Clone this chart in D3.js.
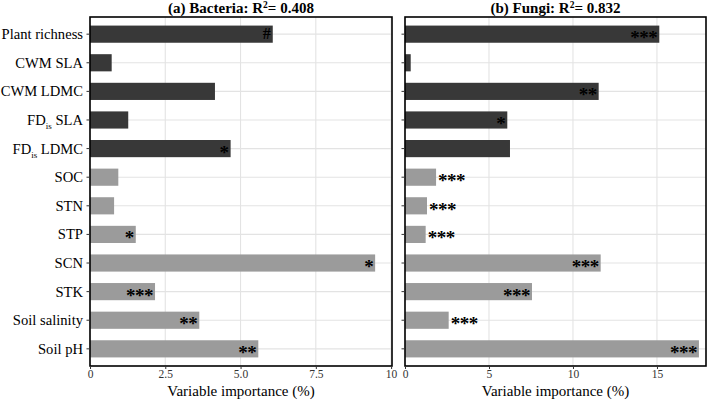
<!DOCTYPE html>
<html>
<head>
<meta charset="utf-8">
<script src="https://cdn.jsdelivr.net/npm/d3@7"></script>
<style>
  html, body { margin: 0; padding: 0; background: #fff; }
  svg { display: block; }
  text { font-family: "Liberation Serif", "Times New Roman", serif; }
</style>
</head>
<body>
<svg id="chart" width="709" height="402"></svg>
<script>
// ---- data ----
const categories = ["Plant richness", "CWM SLA", "CWM LDMC", "FDis SLA", "FDis LDMC",
  "SOC", "STN", "STP", "SCN", "STK", "Soil salinity", "Soil pH"];
const groups = ["plant", "plant", "plant", "plant", "plant",
  "soil", "soil", "soil", "soil", "soil", "soil", "soil"];
const bacteriaValues = [6.07, 0.72, 4.15, 1.27, 4.67, 0.94, 0.80, 1.52, 9.47, 2.16, 3.63, 5.59];
const bacteriaSig = ["#", "", "", "", "*", "", "", "*", "*", "***", "**", "**"];
const fungiValues = [15.14, 0.34, 11.53, 6.09, 6.25, 1.85, 1.31, 1.23, 11.65, 7.56, 2.60, 17.5];
const fungiSig = ["***", "", "**", "*", "", "***", "***", "***", "***", "***", "***", "***"];
const bacteriaTicks = [0, 2.5, 5.0, 7.5, 10];
const fungiTicks = [0, 5, 10, 15];
const panelTitles = [
  { pre: "(a) Bacteria: R", r2: "0.408" },
  { pre: "(b) Fungi: R", r2: "0.832" }
];

const colors = { plant: "#383838", soil: "#9b9b9b" };

const svg = d3.select("#chart");
const plotTop = 17, plotBottom = 366;

const y = d3.scaleBand().domain(categories).range([plotTop, plotBottom])
  .paddingInner(0.4).paddingOuter(0.3);

const panels = [
  { x0: 90, x1: 392, domain: [0, 10.03], values: bacteriaValues, sig: bacteriaSig,
    ticks: bacteriaTicks, fmt: d => (d === 0 ? "0" : d === 10 ? "10" : d3.format(".1f")(d)), title: panelTitles[0], labels: true },
  { x0: 405, x1: 706, domain: [0, 17.92], values: fungiValues, sig: fungiSig,
    ticks: fungiTicks, fmt: d => String(d), title: panelTitles[1], labels: false }
];

panels.forEach(p => {
  const x = d3.scaleLinear().domain(p.domain).range([p.x0, p.x1]);
  const g = svg.append("g");

  // gridlines
  g.append("g").selectAll("line").data(p.ticks).join("line")
    .attr("x1", d => x(d)).attr("x2", d => x(d))
    .attr("y1", plotTop).attr("y2", plotBottom)
    .attr("stroke", "#e3e3e3").attr("stroke-width", 1.1);
  g.append("g").selectAll("line").data(categories).join("line")
    .attr("x1", p.x0).attr("x2", p.x1)
    .attr("y1", d => y(d) + y.bandwidth() / 2).attr("y2", d => y(d) + y.bandwidth() / 2)
    .attr("stroke", "#e3e3e3").attr("stroke-width", 1.1);

  // bars
  g.append("g").selectAll("rect").data(categories).join("rect")
    .attr("x", x(0))
    .attr("y", d => y(d))
    .attr("width", (d, i) => x(p.values[i]) - x(0))
    .attr("height", y.bandwidth())
    .attr("fill", (d, i) => colors[groups[i]]);

  // significance labels
  const sigG = g.append("g");
  categories.forEach((c, i) => {
    const s = p.sig[i];
    if (!s) return;
    const barPx = x(p.values[i]) - x(0);
    const isHash = s === "#";
    const labelW = s.length * 9.5;
    const outside = barPx < labelW + 20;
    const cy = y(c) + y.bandwidth() / 2;
    sigG.append("text")
      .attr("x", outside ? x(p.values[i]) + 2 : x(p.values[i]) - 2)
      .attr("y", cy + (isHash ? 5 : 10))
      .attr("text-anchor", outside ? "start" : "end")
      .attr("font-weight", "bold")
      .attr("font-size", isHash ? 16 : 19)
      .attr("letter-spacing", isHash ? 0 : -0.5)
      .attr("fill", "#000")
      .text(s);
  });

  // panel border
  g.append("rect")
    .attr("x", p.x0).attr("y", plotTop)
    .attr("width", p.x1 - p.x0).attr("height", plotBottom - plotTop)
    .attr("fill", "none").attr("stroke", "#000").attr("stroke-width", 1.6);

  // x axis
  const xa = g.append("g").attr("transform", `translate(0,${plotBottom})`)
    .call(d3.axisBottom(x).tickValues(p.ticks).tickFormat(p.fmt).tickSize(3).tickPadding(1));
  xa.select(".domain").remove();
  xa.selectAll(".tick line").attr("stroke", "#333");
  xa.selectAll(".tick text").attr("font-size", 11.5).attr("fill", "#333")
    .attr("font-family", "Liberation Serif, serif");

  // y axis ticks
  const ya = g.append("g").attr("transform", `translate(${p.x0},0)`)
    .call(d3.axisLeft(y).tickSize(3.5).tickPadding(3).tickFormat(() => ""));
  ya.select(".domain").remove();
  ya.selectAll(".tick line").attr("stroke", "#333");

  if (p.labels) {
    const lab = g.append("g");
    categories.forEach(c => {
      const t = lab.append("text")
        .attr("x", p.x0 - 7)
        .attr("y", y(c) + y.bandwidth() / 2 + 5)
        .attr("text-anchor", "end")
        .attr("font-size", 14.6)
        .attr("fill", "#000");
      if (c.startsWith("FDis")) {
        t.append("tspan").text("FD");
        t.append("tspan").attr("font-size", 9).attr("dy", 4).text("is");
        t.append("tspan").attr("dy", -4).text(" " + c.slice(5));
      } else {
        t.text(c);
      }
    });
  }

  // axis title
  g.append("text")
    .attr("x", (p.x0 + p.x1) / 2).attr("y", 396)
    .attr("text-anchor", "middle").attr("font-size", 15).attr("fill", "#000")
    .text("Variable importance (%)");

  // panel title
  const tt = g.append("text")
    .attr("x", (p.x0 + p.x1) / 2).attr("y", 13)
    .attr("text-anchor", "middle").attr("font-size", 15).attr("font-weight", "bold")
    .attr("fill", "#000");
  tt.append("tspan").text(p.title.pre);
  tt.append("tspan").attr("font-size", 9.5).attr("dy", -5).text("2");
  tt.append("tspan").attr("dy", 5).text("= " + p.title.r2);
});
</script>
</body>
</html>
